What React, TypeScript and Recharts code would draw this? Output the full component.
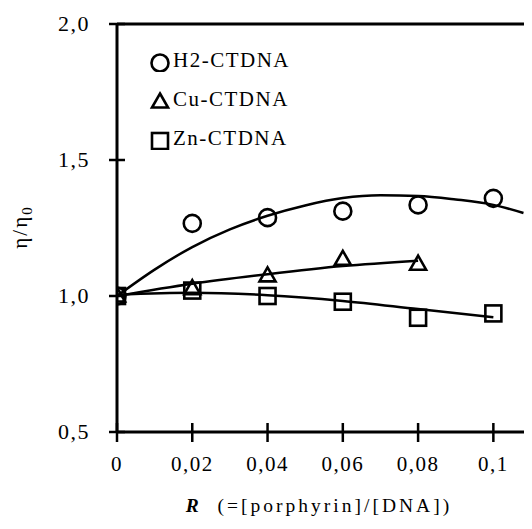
import React from "react";
import {
  ComposedChart, Line, Scatter, XAxis, YAxis, ReferenceLine, Label,
} from "recharts";

// measured points (R, eta/eta0)
const h2Points = [
  { x: 0, y: 1.0 }, { x: 0.02, y: 1.267 }, { x: 0.04, y: 1.288 },
  { x: 0.06, y: 1.312 }, { x: 0.08, y: 1.335 }, { x: 0.1, y: 1.359 },
];
const cuPoints = [
  { x: 0, y: 1.0 }, { x: 0.02, y: 1.027 }, { x: 0.04, y: 1.074 },
  { x: 0.06, y: 1.135 }, { x: 0.08, y: 1.117 },
];
const znPoints = [
  { x: 0, y: 1.0 }, { x: 0.02, y: 1.02 }, { x: 0.04, y: 1.0 },
  { x: 0.06, y: 0.979 }, { x: 0.08, y: 0.92 }, { x: 0.1, y: 0.936 },
];

// trend lines
const h2Fit = [
  { x: 0, y: 1.0 }, { x: 0.01, y: 1.097 }, { x: 0.02, y: 1.18 }, { x: 0.03, y: 1.245 },
  { x: 0.04, y: 1.295 }, { x: 0.05, y: 1.333 }, { x: 0.06, y: 1.36 }, { x: 0.07, y: 1.37 },
  { x: 0.08, y: 1.368 }, { x: 0.09, y: 1.355 }, { x: 0.1, y: 1.335 }, { x: 0.108, y: 1.305 },
];
const cuFit = [
  { x: 0, y: 1.0 }, { x: 0.02, y: 1.045 }, { x: 0.04, y: 1.08 }, { x: 0.06, y: 1.11 }, { x: 0.08, y: 1.13 },
];
const znFit = [
  { x: 0, y: 1.005 }, { x: 0.02, y: 1.012 }, { x: 0.04, y: 1.003 }, { x: 0.06, y: 0.982 },
  { x: 0.08, y: 0.952 }, { x: 0.1, y: 0.922 },
];

const xTicks = [0, 0.02, 0.04, 0.06, 0.08, 0.1];
const xTickLabels = ["0", "0,02", "0,04", "0,06", "0,08", "0,1"];
const yTicks = [0.5, 1, 1.5, 2];
const yTickLabels = ["0,5", "1,0", "1,5", "2,0"];

const seriesNames = ["H2-CTDNA", "Cu-CTDNA", "Zn-CTDNA"];

const FONT = "'Liberation Serif', 'Times New Roman', serif";

function Marker({ kind, cx, cy }: { kind: string; cx: number; cy: number }) {
  if (cx == null || cy == null) return null;
  if (kind === "circle") return <circle cx={cx} cy={cy} r={8.5} fill="none" stroke="#000" strokeWidth={2.6} />;
  if (kind === "triangle")
    return <path d={`M${cx},${cy - 8.5} L${cx + 8},${cy + 5.5} L${cx - 8},${cy + 5.5} Z`} fill="none" stroke="#000" strokeWidth={2.6} />;
  return <rect x={cx - 8} y={cy - 8} width={16} height={16} fill="none" stroke="#000" strokeWidth={2.6} />;
}

// eslint-disable-next-line @typescript-eslint/no-explicit-any
function XTick({ x, y, payload }: any) {
  const i = xTicks.indexOf(payload.value);
  return (
    <g>
      <line x1={x} y1={y - 9} x2={x} y2={y + 10} stroke="#000" strokeWidth={2.5} />
      <text x={x} y={y + 39} textAnchor="middle" fontSize={21} letterSpacing={1.5} style={{ fontFamily: FONT }} fill="#000">
        {xTickLabels[i]}
      </text>
    </g>
  );
}

// eslint-disable-next-line @typescript-eslint/no-explicit-any
function YTick({ x, y, payload }: any) {
  const i = yTicks.indexOf(payload.value);
  return (
    <g>
      <line x1={x - 8} y1={y} x2={x + 8} y2={y} stroke="#000" strokeWidth={2.5} />
      <text x={x - 27} y={y + 7} textAnchor="end" fontSize={22} letterSpacing={1.5} style={{ fontFamily: FONT }} fill="#000">
        {yTickLabels[i]}
      </text>
    </g>
  );
}

function LegendBox() {
  const kinds = ["circle", "triangle", "square"];
  return (
    <div style={{ position: "absolute", top: 33, left: 141, fontFamily: FONT, fontSize: 21, letterSpacing: 1.5, color: "#000" }}>
      {seriesNames.map((n, i) => (
        <div key={n} style={{ display: "flex", alignItems: "center", height: 39 }}>
          <svg width={22} height={22} style={{ marginRight: 2 }}>
            <Marker kind={kinds[i]} cx={11} cy={13} />
          </svg>
          <span>{n}</span>
        </div>
      ))}
    </div>
  );
}

export default function App() {
  return (
    <div style={{ position: "relative", width: 524, height: 513 }}>
      <ComposedChart width={524} height={513} margin={{ top: 16, right: 1, left: 0, bottom: 0 }}>
        <XAxis
          dataKey="x" type="number" domain={[0, 0.11]} ticks={xTicks} allowDataOverflow
          height={89} tickSize={0} tickMargin={0} tickLine={false} tick={<XTick />}
          axisLine={{ stroke: "#000", strokeWidth: 3 }}
        >
          <Label
            content={() => (
              <text x={311} y={504} textAnchor="middle" fontSize={19.5} letterSpacing={3} style={{ fontFamily: FONT }} fill="#000">
                <tspan fontWeight="bold" fontStyle="italic">R</tspan>
                <tspan>{"\u00a0 (=[porphyrin]/[DNA])"}</tspan>
              </text>
            )}
          />
        </XAxis>
        <YAxis
          type="number" domain={[0.5, 2]} ticks={yTicks} width={109}
          tickSize={0} tickMargin={0} tickLine={false} tick={<YTick />}
          axisLine={{ stroke: "#000", strokeWidth: 3 }}
        >
          <Label
            content={() => (
              <text transform="translate(19,219) rotate(-90)" textAnchor="middle" fontSize={21} letterSpacing={2} style={{ fontFamily: FONT }} fill="#000">
                <tspan>η/η</tspan>
                <tspan dy={5} fontSize={15}>0</tspan>
              </text>
            )}
          />
        </YAxis>
        <ReferenceLine y={2} stroke="#000" strokeWidth={3} ifOverflow="visible" />
        <Line data={h2Fit} dataKey="y" type="monotone" stroke="#000" strokeWidth={2.5} dot={false} isAnimationActive={false} />
        <Line data={cuFit} dataKey="y" type="monotone" stroke="#000" strokeWidth={2.5} dot={false} isAnimationActive={false} />
        <Line data={znFit} dataKey="y" type="monotone" stroke="#000" strokeWidth={2.5} dot={false} isAnimationActive={false} />
        {/* eslint-disable-next-line @typescript-eslint/no-explicit-any */}
        <Scatter data={h2Points} dataKey="y" isAnimationActive={false} shape={(p: any) => <Marker kind="circle" cx={p.cx} cy={p.cy} />} />
        {/* eslint-disable-next-line @typescript-eslint/no-explicit-any */}
        <Scatter data={cuPoints} dataKey="y" isAnimationActive={false} shape={(p: any) => <Marker kind="triangle" cx={p.cx} cy={p.cy} />} />
        {/* eslint-disable-next-line @typescript-eslint/no-explicit-any */}
        <Scatter data={znPoints} dataKey="y" isAnimationActive={false} shape={(p: any) => <Marker kind="square" cx={p.cx} cy={p.cy} />} />
      </ComposedChart>
      <LegendBox />
    </div>
  );
}
